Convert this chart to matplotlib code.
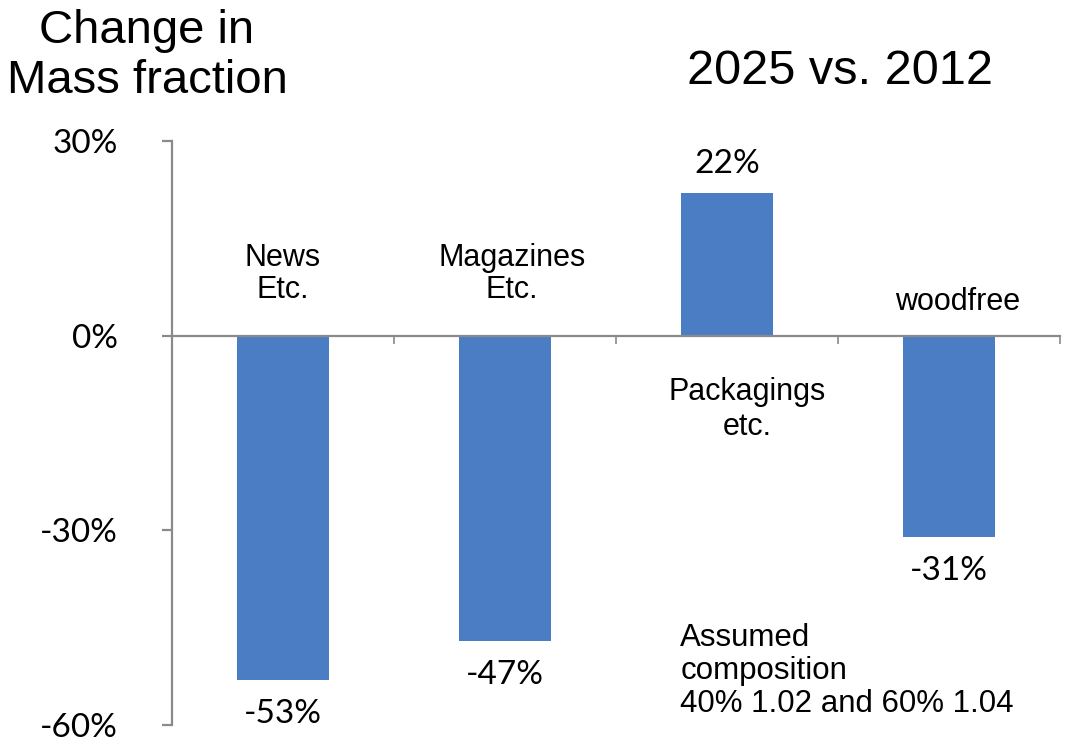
import matplotlib.pyplot as plt
import numpy as np

# Aenderung Massenanteil 2025 gegenueber 2012
categories = ["News\nEtc.", "Magazines\nEtc.", "Packagings\netc.", "woodfree"]
change = [-53, -47, 22, -31]
yticks = [30, 0, -30, -60]

bar_color = "#4a7dc4"
axis_color = "#8a8a8a"
num_font = "Lato"
txt_font = "Liberation Sans"

fig = plt.figure(figsize=(10.67, 7.42), dpi=100)
ax = fig.add_axes([172 / 1067, 1 - 725 / 742, (1060 - 172) / 1067, (725 - 141) / 742])

x = np.arange(len(categories))
bars = ax.bar(x, change, width=0.41, color=bar_color, zorder=2)

ax.set_xlim(-0.5, len(categories) - 0.5)
ax.set_ylim(-60, 30)

# Achsen wie im Excel-Stil: x-Achse auf Nulllinie
for side in ["top", "right"]:
    ax.spines[side].set_visible(False)
ax.spines["bottom"].set_position(("data", 0))
ax.spines["bottom"].set_color(axis_color)
ax.spines["left"].set_color(axis_color)
ax.spines["bottom"].set_linewidth(1.6)
ax.spines["left"].set_linewidth(1.6)

ax.set_yticks(yticks)
ax.set_yticklabels([f"{v}%" for v in yticks], fontfamily=num_font, fontsize=24)
ax.tick_params(axis="y", direction="out", length=7, width=1.6, color=axis_color, pad=32)

ax.set_xticks(np.arange(0.5, len(categories), 1.0))
ax.set_xticklabels([])
ax.tick_params(axis="x", direction="out", length=6, width=1.2, color=axis_color)

# Wertebeschriftung
for xi, v in zip(x, change):
    if v >= 0:
        ax.annotate(f"{v}%", (xi, v), xytext=(0, 10), textcoords="offset points",
                    ha="center", va="bottom", fontsize=24, fontfamily=num_font)
    else:
        ax.annotate(f"{v}%", (xi, v), xytext=(0, -14), textcoords="offset points",
                    ha="center", va="top", fontsize=24, fontfamily=num_font)

# Kategorienamen
ax.text(x[0], 9.5, categories[0], ha="center", va="center", fontsize=22,
        fontfamily=txt_font, linespacing=1.1)
ax.text(x[1] + 0.03, 9.5, categories[1], ha="center", va="center", fontsize=22,
        fontfamily=txt_font, linespacing=1.1)
ax.text(x[2] + 0.09, -11.4, categories[2], ha="center", va="center", fontsize=22,
        fontfamily=txt_font, linespacing=1.2)
ax.text(x[3] + 0.04, 5.2, categories[3], ha="center", va="center", fontsize=22,
        fontfamily=txt_font)

ax.text(1.79, -59, "Assumed\ncomposition\n40% 1.02 and 60% 1.04", ha="left",
        va="bottom", fontsize=22.5, fontfamily=txt_font, linespacing=1.12)

fig.text(147 / 1067, 1 - 56 / 742, "Change in\nMass fraction", ha="center",
         va="center", fontsize=34, fontfamily=txt_font, linespacing=1.15)
fig.text(840 / 1067, 1 - 72 / 742, "2025 vs. 2012", ha="center", va="center",
         fontsize=35, fontfamily=txt_font)

fig.savefig("out.png", dpi=100)
